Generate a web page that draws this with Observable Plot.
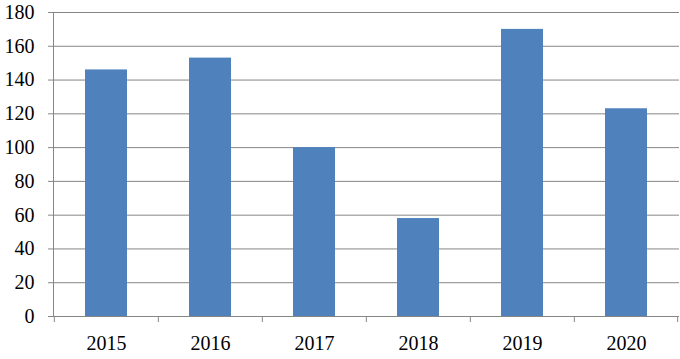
<!DOCTYPE html>
<html>
<head>
<meta charset="utf-8">
<script src="https://cdn.jsdelivr.net/npm/d3@7"></script>
<script src="https://cdn.jsdelivr.net/npm/@observablehq/plot@0.6"></script>
<style>
  html, body { margin: 0; padding: 0; background: #fff; }
  #chart svg text { font-family: "Liberation Serif", serif !important; font-size: 20px !important; }
</style>
</head>
<body>
<div id="chart"></div>
<script>
const years = ["2015", "2016", "2017", "2018", "2019", "2020"];
const values = [146, 153, 100, 58, 170, 123];
const yTicks = [0, 20, 40, 60, 80, 100, 120, 140, 160, 180];

const data = years.map((y, i) => ({year: y, value: values[i]}));

const W = 680, H = 359;
const mL = 53, mR = 1, mT = 12, mB = 43;
const half = (W - mL - mR) / years.length / 2;
const grid = "#868686";

const chart = Plot.plot({
  width: W,
  height: H,
  marginLeft: mL,
  marginRight: mR,
  marginTop: mT,
  marginBottom: mB,
  style: {fontFamily: "'Liberation Serif', serif", fontSize: "20px", color: "#000", background: "#fff"},
  x: {domain: years, paddingInner: 0.6, paddingOuter: 0.3, label: null},
  y: {domain: [0, 180], label: null},
  marks: [
    Plot.gridY(yTicks, {stroke: grid, strokeOpacity: 1, strokeWidth: 1}),
    Plot.axisY(yTicks, {tickSize: 5, tickPadding: 14, stroke: grid, strokeOpacity: 1, label: null, tickFormat: d => String(d)}),
    Plot.frame({anchor: "left", stroke: grid}),
    Plot.barY(data, {x: "year", y: "value", fill: "#4F81BD"}),
    Plot.ruleX(years, {x: d => d, dx: -half, stroke: grid, insetTop: H - mT - mB, insetBottom: -6}),
    Plot.ruleX([years[years.length - 1]], {x: d => d, dx: half - 1, stroke: grid, insetTop: H - mT - mB, insetBottom: -6}),
    Plot.axisX({tickSize: 0, tickPadding: 19, label: null})
  ]
});
document.getElementById("chart").appendChild(chart);
</script>
</body>
</html>
